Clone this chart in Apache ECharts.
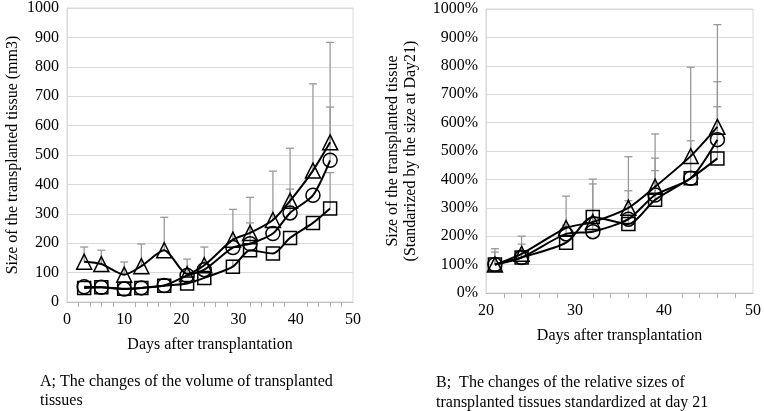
<!DOCTYPE html>
<html><head><meta charset="utf-8">
<script src="https://cdn.jsdelivr.net/npm/echarts@6/dist/echarts.min.js"></script>
<style>html,body{margin:0;padding:0;background:#fff}#c{width:764px;height:411px}</style>
</head><body><div id="c"></div>
<script>
const daysA = [3,6,10,13,17,21,24,29,32,36,39,43,46];
const triA = [137,129,93,122,176,95,125,212,235,279,344,447,543];
const cirA = [52,50,44,48,56,90,110,185,198,233,303,363,482];
const sqA  = [48,50,45,48,55,63,82,120,176,165,218,269,318];
const errTriA = [187,176,136,197,288,146,187,315,356,445,523,742,883];
const errCirA = [null,null,null,null,null,null,null,null,269,null,384,null,663];
const errSqA  = [null,null,null,null,null,null,null,142,null,null,null,null,440];

const daysB = [21,24,29,32,36,39,43,46];
const triB = [100,138,229,250,300,374,482,585];
const cirB = [100,125,208,216,260,345,404,540];
const sqB  = [100,125,177,268,243,328,404,474];
const errTriB = [156,200,341,401,480,560,795,945];
const errCirB = [144,172,239,384,360,475,536,744];
const errSqB  = [null,null,null,null,325,431,null,656];

const FONT = 'Liberation Serif';
const chart = echarts.init(document.getElementById('c'));

function pairs(xs, ys){ return xs.map((x,i)=>[x, ys[i]]); }
function errData(xs, ys, tops){
  const out=[];
  xs.forEach((x,i)=>{ if(tops[i]!=null) out.push([x, ys[i], tops[i]]); });
  return out;
}
function errSeries(gi, data){
  return {
    type:'custom', xAxisIndex:gi, yAxisIndex:gi, z:1, silent:true,
    data: data,
    renderItem: function(params, api){
      const p0 = api.coord([api.value(0), api.value(1)]);
      const p1 = api.coord([api.value(0), api.value(2)]);
      const w = 4;
      return {type:'group', children:[
        {type:'line', shape:{x1:p0[0],y1:p0[1],x2:p1[0],y2:p1[1]}, style:{stroke:'#999',lineWidth:1.3}},
        {type:'line', shape:{x1:p1[0]-w,y1:p1[1],x2:p1[0]+w,y2:p1[1]}, style:{stroke:'#999',lineWidth:1.3}}
      ]};
    }
  };
}
function lineSeries(gi, data, sym, size){
  return {
    type:'line', xAxisIndex:gi, yAxisIndex:gi, z:3, data:data,
    smooth:0.25, symbol:sym, symbolSize:size, showAllSymbol:true,
    lineStyle:{color:'#000', width:2},
    itemStyle:{color:'rgba(255,255,255,0)', borderColor:'#000', borderWidth:1.5},
    emphasis:{disabled:true}, animation:false
  };
}
const axisLabel = {color:'#000', fontFamily:FONT, fontSize:16};
function xAxis(gi, min){
  return {type:'value', gridIndex:gi, min:min, max:50, interval:10,
    axisLine:{lineStyle:{color:'#bfbfbf'}},
    axisTick:{show:false},
    minorTick:{show:true, splitNumber:5, length:5, lineStyle:{color:'#b0b0b0'}},
    splitLine:{show:false},
    axisLabel:Object.assign({margin:10}, axisLabel),
    name:'Days after transplantation', nameLocation:'middle', nameGap:35,
    nameTextStyle:{color:'#000', fontFamily:FONT, fontSize:16}
  };
}
chart.setOption({
  animation:false,
  grid:[
    {left:67, right:411, top:7, bottom:109, show:true, borderColor:'#d9d9d9', borderWidth:1},
    {left:486, right:9, top:9, bottom:118, show:true, borderColor:'#d9d9d9', borderWidth:1}
  ],
  xAxis:[xAxis(0,0), xAxis(1,20)],
  yAxis:[
    {type:'value', gridIndex:0, min:0, max:1000, interval:100,
     axisLine:{show:true, lineStyle:{color:'#d9d9d9'}}, axisTick:{show:false},
     splitLine:{lineStyle:{color:'#d9d9d9'}},
     axisLabel:Object.assign({margin:8, formatter:function(v){return String(v);}}, axisLabel),
     name:'Size of the transplanted tissue (mm3)', nameLocation:'middle', nameGap:46,
     nameTextStyle:{color:'#000', fontFamily:FONT, fontSize:16}},
    {type:'value', gridIndex:1, min:0, max:1000, interval:100,
     axisLine:{show:true, lineStyle:{color:'#d9d9d9'}}, axisTick:{show:false},
     splitLine:{lineStyle:{color:'#d9d9d9'}},
     axisLabel:Object.assign({margin:8, formatter:function(v){return v + '%';}}, axisLabel),
     name:'Size of the transplanted tissue\n(Standarized by the size at Day21)', nameLocation:'middle', nameGap:66,
     nameTextStyle:{color:'#000', fontFamily:FONT, fontSize:16, lineHeight:18}}
  ],
  series:[
    errSeries(0, errData(daysA, triA, errTriA)),
    errSeries(0, errData(daysA, cirA, errCirA)),
    errSeries(0, errData(daysA, sqA, errSqA)),
    lineSeries(0, pairs(daysA, triA), 'triangle', 15),
    lineSeries(0, pairs(daysA, cirA), 'circle', 14),
    lineSeries(0, pairs(daysA, sqA), 'rect', 13),
    errSeries(1, errData(daysB, triB, errTriB)),
    errSeries(1, errData(daysB, cirB, errCirB)),
    errSeries(1, errData(daysB, sqB, errSqB)),
    lineSeries(1, pairs(daysB, triB), 'triangle', 15),
    lineSeries(1, pairs(daysB, cirB), 'circle', 14),
    lineSeries(1, pairs(daysB, sqB), 'rect', 13)
  ],
  graphic:[
    {type:'text', left:40, top:372, style:{text:'A; The changes of the volume of transplanted\ntissues', fill:'#000', font:'16px "Liberation Serif"', lineHeight:19}},
    {type:'text', left:436, top:373, style:{text:'B;  The changes of the relative sizes of\ntransplanted tissues standardized at day 21', fill:'#000', font:'16px "Liberation Serif"', lineHeight:20}}
  ]
});
</script></body></html>
